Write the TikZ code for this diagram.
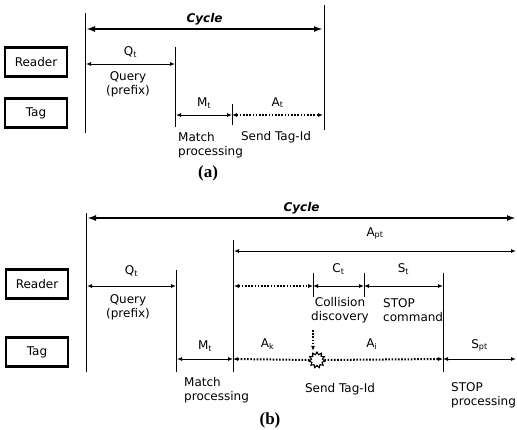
\documentclass[tikz,border=0pt]{standalone}
\usepackage{fontspec}
\setmainfont{Liberation Serif}
\setsansfont{DejaVu Sans}
\usepackage{tikz}
\usetikzlibrary{arrows.meta, shapes.geometric}

\tikzset{
    actor/.style={draw, line width=2.2pt, minimum width=62pt, minimum height=29pt, inner sep=0pt, font=\sffamily\fontsize{12}{14}\selectfont},
    lbl/.style={inner sep=0pt, align=center, font=\sffamily\fontsize{12}{14}\selectfont},
    bar/.style={line width=0.9pt},
    span/.style={<->, line width=0.9pt},
    dotspan/.style={line width=2pt, dash pattern=on 1.6pt off 1.6pt},
    cyc/.style={{Latex[length=9pt, width=6pt]}-{Latex[length=9pt, width=6pt]}, line width=1.8pt},
    cyclbl/.style={inner sep=0pt, font=\sffamily\bfseries\itshape\fontsize{12}{14}\selectfont},
    part/.style={inner sep=0pt, font=\bfseries\fontsize{17}{19}\selectfont}
}

\begin{document}
\begin{tikzpicture}[x=1pt, y=-1pt, >={Latex[length=5pt, width=4pt]}]
    \useasboundingbox (0,0) rectangle (517,430);
    % ---- (a): one query per tag ----
    \node[actor] (readerA) at (36,62) {Reader};
    \node[actor] (tagA) at (36,113) {Tag};
    % Time marks
    \draw[bar] (85,13) -- (85,133);
    \draw[bar] (175,47) -- (175,127);
    \draw[bar] (232,104) -- (232,125);
    \draw[bar] (324,5) -- (324,130);
    \coordinate (cycA0) at (86,29);
    \coordinate (cycA1) at (323,29);
    \coordinate (qA0) at (86,64);
    \coordinate (qA1) at (175,64);
    \coordinate (mA0) at (176,115);
    \coordinate (mA1) at (232,115);
    \coordinate (sA1) at (323,115);
    % Spans
    \draw[cyc] (cycA0) -- (cycA1) node[cyclbl, midway, above=3pt] {Cycle};
    \draw[span] (qA0) -- (qA1) node[lbl, midway, above=6pt] {Q\textsubscript{t}};
    \draw[span] (mA0) -- (mA1) node[lbl, midway, above=6pt] {M\textsubscript{t}};
    \draw[dotspan, <->] (mA1) -- (sA1) node[lbl, midway, above=6pt] {A\textsubscript{t}};
    % Labels
    \node[lbl] (queryA) at (128,84) {Query\\(prefix)};
    \node[lbl, anchor=west, align=left] (matchA) at (178,145) {Match\\processing};
    \node[lbl] (sendA) at (276,137) {Send Tag-Id};
    \node[part] (capA) at (208,173) {(a)};

    % ---- (b): collision and STOP ----
    \node[actor] (readerB) at (37,284) {Reader};
    \node[actor] (tagB) at (37,352) {Tag};
    % Time marks
    \draw[bar] (86,213) -- (86,372);
    \draw[bar] (176,270) -- (176,372);
    \draw[bar] (233,240) -- (233,372);
    \draw[bar] (313,273) -- (313,297);
    \draw[bar] (364,273) -- (364,297);
    \draw[bar] (443,273) -- (443,372);
    \coordinate (cycB0) at (87,218);
    \coordinate (cycB1) at (516,218);
    \coordinate (apB0) at (234,251);
    \coordinate (apB1) at (516,251);
    \coordinate (qB0) at (87,286);
    \coordinate (qB1) at (176,286);
    \coordinate (wB0) at (234,286);
    \coordinate (cB0) at (313,286);
    \coordinate (cB1) at (364,286);
    \coordinate (stB1) at (443,286);
    \coordinate (mB0) at (177,359);
    \coordinate (mB1) at (233,359);
    \coordinate (aiB1) at (443,359);
    \coordinate (spB1) at (516,359);
    \coordinate (hitTop) at (313,330);
    % Collision of tag replies
    \node[star, star points=11, star point ratio=1.45, minimum size=16pt, inner sep=0pt, draw, fill=white, line width=1.1pt] (hit) at (317,360) {};
    % Spans
    \draw[cyc] (cycB0) -- (cycB1) node[cyclbl, pos=0.5, above=3pt] {Cycle};
    \draw[span] (apB0) -- (apB1) node[lbl, midway, above=11pt] {A\textsubscript{pt}};
    \draw[span] (qB0) -- (qB1) node[lbl, midway, above=9pt] {Q\textsubscript{t}};
    \draw[dotspan, <->] (wB0) -- (cB0);
    \draw[span] (cB0) -- (cB1) node[lbl, midway, above=11pt] {C\textsubscript{t}};
    \draw[span] (cB1) -- (stB1) node[lbl, midway, above=11pt] {S\textsubscript{t}};
    \draw[span] (mB0) -- (mB1) node[lbl, midway, above=7pt] {M\textsubscript{t}};
    \draw[dotspan, <-] (mB1) -- (hit.west) node[lbl, pos=0.45, above=9pt] {A\textsubscript{k}};
    \draw[dotspan, ->] (hit.east) -- (aiB1) node[lbl, pos=0.4, above=9pt] {A\textsubscript{i}};
    \draw[span] (aiB1) -- (spB1) node[lbl, midway, above=7pt] {S\textsubscript{pt}};
    \draw[dotspan, ->] (hitTop) -- (hitTop |- hit.north);
    % Labels
    \node[lbl] (queryB) at (128,307) {Query\\(prefix)};
    \node[lbl] (collB) at (340,310) {Collision\\discovery};
    \node[lbl, anchor=west, align=left] (stopB) at (383,310) {STOP\\command};
    \node[lbl, anchor=west, align=left] (matchB) at (184,390) {Match\\processing};
    \node[lbl] (sendB) at (340,389) {Send Tag-Id};
    \node[lbl, anchor=west, align=left] (stopprocB) at (451,395) {STOP\\processing};
    \node[part] (capB) at (270,420) {(b)};
\end{tikzpicture}
\end{document}
